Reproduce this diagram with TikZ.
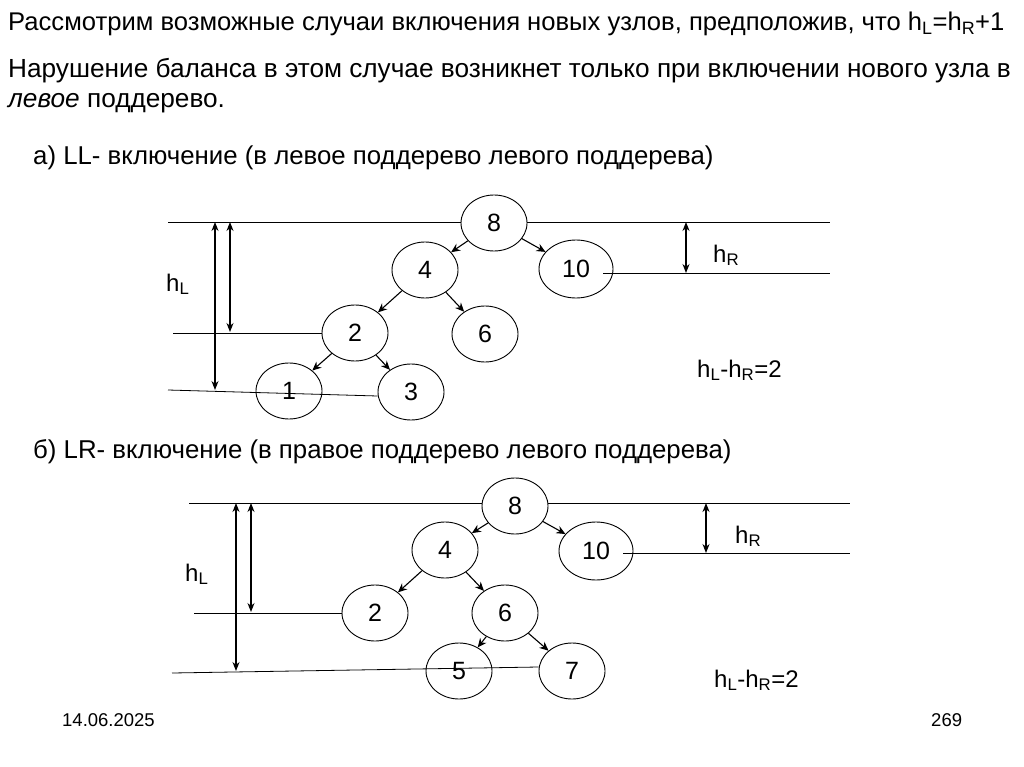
\documentclass[tikz,border=0pt]{standalone}
\usepackage{fontspec}
\setmainfont{Liberation Sans}
\usetikzlibrary{arrows.meta,shapes.geometric,calc}
\begin{document}
\begin{tikzpicture}[x=1pt,y=-1pt,
  nd/.style={draw, ellipse, line width=0.9pt, minimum width=66pt, minimum height=56pt, inner sep=0pt, font=\fontsize{25}{25}\selectfont},
  nd10/.style={nd, minimum width=74pt, minimum height=58pt},
  hl/.style={line width=0.8pt},
  tarr/.style={line width=1.1pt, -{Stealth[length=9pt,width=8pt]}},
  darr/.style={line width=1.2pt, {Stealth[length=9pt,width=7pt]}-{Stealth[length=9pt,width=7pt]}},
  txt/.style={anchor=base west, inner sep=0pt, font=\fontsize{25.8}{28}\selectfont},
  lbl/.style={anchor=base west, inner sep=0pt, font=\fontsize{24}{26}\selectfont},
  small/.style={anchor=base west, inner sep=0pt, font=\fontsize{18.5}{20}\selectfont},
]
\useasboundingbox (0,0) rectangle (1024,767);

% texts
\node[txt, font=\fontsize{25.6}{28}\selectfont] (t1) at (8,31) {Рассмотрим возможные случаи включения новых узлов, предположив, что h\textsubscript{L}=h\textsubscript{R}+1};
\node[txt, font=\fontsize{26.2}{28}\selectfont] (t2) at (8,78) {Нарушение баланса в этом случае возникнет только при включении нового узла в};
\node[txt, font=\fontsize{26.2}{28}\selectfont] (t3) at (8,108) {\textit{левое} поддерево.};
\node[txt] (ta) at (33,165) {а) LL- включение (в левое поддерево левого поддерева)};
\node[txt] (tb) at (33,458) {б) LR- включение (в правое поддерево левого поддерева)};
\node[small] (date) at (62,726) {14.06.2025};
\node[small] (page) at (931,726) {269};

% ---------- tree 1 ----------
\node[nd] (a8) at (494,223) {8};
\node[nd] (a4) at (425,270) {4};
\node[nd10] (a10) at (576,269) {10};
\node[nd] (a2) at (355,333) {2};
\node[nd] (a6) at (485,334) {6};
\node[nd] (a1) at (289,391) {1};
\node[nd] (a3) at (411,392) {3};

\draw[tarr] (a8) -- (a4);
\draw[tarr] (a8) -- (a10);
\draw[tarr] (a4) -- (a2);
\draw[tarr] (a4) -- (a6);
\draw[tarr] (a2) -- (a1);
\draw[tarr] (a2) -- (a3);

\coordinate (a-top-l) at (168,222);
\coordinate (a-top-r) at (830,222);
\coordinate (a-r-s) at (603,273);
\coordinate (a-r-e) at (830,273);
\coordinate (a-mid-l) at (173,333);
\coordinate (a-bot-l) at (168,390);
\draw[hl] (a-top-l) -- (a-top-l -| a8.west);
\draw[hl] (a-top-r -| a8.east) -- (a-top-r);
\draw[hl] (a-r-s) -- (a-r-e);
\draw[hl] (a-mid-l) -- (a2.west);
\draw[hl] (a-bot-l) -- ([yshift=-4pt]a3.west);

\coordinate (aL1t) at (215,222);
\coordinate (aL1b) at (215,390);
\coordinate (aL2t) at (230,222);
\coordinate (aL2b) at (230,332);
\coordinate (aRt) at (686,222);
\coordinate (aRb) at (686,273);
\draw[darr] (aL1t) -- (aL1b);
\draw[darr] (aL2t) -- (aL2b);
\draw[darr] (aRt) -- (aRb);

\node[lbl] (ahL) at (166,291) {h\textsubscript{L}};
\node[lbl] (ahR) at (713,262) {h\textsubscript{R}};
\node[lbl] (adiff) at (697,377) {h\textsubscript{L}-h\textsubscript{R}=2};

% ---------- tree 2 ----------
\node[nd] (b8) at (515,506) {8};
\node[nd] (b4) at (445,550) {4};
\node[nd10] (b10) at (596,551) {10};
\node[nd] (b2) at (375,613) {2};
\node[nd] (b6) at (505,613) {6};
\node[nd] (b5) at (459,671) {5};
\node[nd] (b7) at (572,671) {7};

\draw[tarr] (b8) -- (b4);
\draw[tarr] (b8) -- (b10);
\draw[tarr] (b4) -- (b2);
\draw[tarr] (b4) -- (b6);
\draw[tarr] (b6) -- (b5);
\draw[tarr] (b6) -- (b7);

\coordinate (b-top-l) at (189,503);
\coordinate (b-top-r) at (850,503);
\coordinate (b-r-s) at (623,553);
\coordinate (b-r-e) at (850,553);
\coordinate (b-mid-l) at (194,613);
\coordinate (b-bot-l) at (172,673);
\draw[hl] (b-top-l) -- (b-top-l -| b8.west);
\draw[hl] (b-top-r -| b8.east) -- (b-top-r);
\draw[hl] (b-r-s) -- (b-r-e);
\draw[hl] (b-mid-l) -- (b2.west);
\draw[hl] (b-bot-l) -- ([yshift=4pt]b7.west);

\coordinate (bL1t) at (236,503);
\coordinate (bL1b) at (236,671);
\coordinate (bL2t) at (251,503);
\coordinate (bL2b) at (251,612);
\coordinate (bRt) at (706,503);
\coordinate (bRb) at (706,553);
\draw[darr] (bL1t) -- (bL1b);
\draw[darr] (bL2t) -- (bL2b);
\draw[darr] (bRt) -- (bRb);

\node[lbl] (bhL) at (185,581) {h\textsubscript{L}};
\node[lbl] (bhR) at (735,543) {h\textsubscript{R}};
\node[lbl] (bdiff) at (714,687) {h\textsubscript{L}-h\textsubscript{R}=2};
\end{tikzpicture}
\end{document}
